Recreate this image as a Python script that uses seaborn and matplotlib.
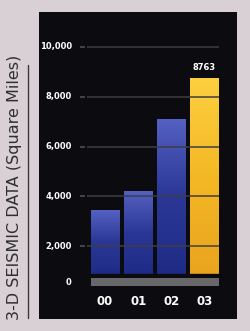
import numpy as np
import pandas as pd
import matplotlib
matplotlib.use("Agg")
import matplotlib.pyplot as plt
import seaborn as sns
from matplotlib.colors import LinearSegmentedColormap

years = ["00", "01", "02", "03"]
values = [3450, 4200, 7100, 8763]
tick_values = [2000, 4000, 6000, 8000, 10000]
tick_labels = ["2,000", "4,000", "6,000", "8,000", "10,000"]
highlight_label = "8763"
ylabel = "3-D SEISMIC DATA (Square Miles)"

sns.set_theme(style="white")
plt.rcParams['font.family'] = ['DejaVu Sans']

BG = "#d8d0d4"
PANEL = "#0c0c10"
fig = plt.figure(figsize=(2.5, 3.31), dpi=100, facecolor=BG)
W, H = 250, 331
ax = fig.add_axes([39 / W, (H - 319) / H, 198 / W, 307 / H])
ax.set_facecolor(PANEL)

df = pd.DataFrame({"year": years, "value": values})
palette = ["#3a46a6", "#3a46a6", "#3a46a6", "#f2b62a"]
sns.barplot(data=df, x="year", y="value", hue="year", palette=palette,
            legend=False, width=0.85, ax=ax, zorder=2, linewidth=0)

ax.set_xlim(-1.99, 3.98)
ax.set_ylim(-920, 11400)

# gradients on bars
blue_cmap = LinearSegmentedColormap.from_list("b", ["#1f2c86", "#2a3796", "#5461c2"])
yel_cmap = LinearSegmentedColormap.from_list("y", ["#e9a41e", "#f4b825", "#fcd040"])
grad = np.linspace(0, 1, 256).reshape(-1, 1)
for i, p in enumerate(ax.patches):
    x0, w = p.get_x(), p.get_width()
    top = p.get_height()
    cmap = yel_cmap if i == 3 else blue_cmap
    im = ax.imshow(grad, cmap=cmap, origin="lower", aspect="auto",
                   extent=[x0, x0 + w, 900, top], zorder=2.5)
    im.set_clip_path(p)

# hide lower parts, grey base strip
ax.axhspan(-1000, 900, color=PANEL, zorder=3)
ax.fill_between([-0.43, 3.43], 400, 720, color="#68686a", zorder=4, linewidth=0)

# gridlines
for v, lab in zip(tick_values, tick_labels):
    ax.hlines(v, -0.54, 3.43, color="#3e3e40", lw=1.1, zorder=3.5)
    ax.hlines(v, -0.76, -0.60, color="#555557", lw=1.1, zorder=3.5)
    ax.text(-0.99, v, lab, ha="right", va="center",
            color="white", fontsize=6, fontweight="bold", zorder=5)
ax.text(-1.1, 560, "0", ha="center", va="center", color="white",
        fontsize=6, fontweight="bold", zorder=5)

for i, y in enumerate(years):
    ax.text(i, -200, y, ha="center", va="center", color="white",
            fontsize=8.5, fontweight="bold", zorder=5)

ax.text(3, values[3] + 220, highlight_label, ha="center", va="bottom",
        color="white", fontsize=6, fontweight="bold", zorder=5)

ax.set_xlabel("")
ax.set_ylabel("")
ax.set_xticks([])
ax.set_yticks([])
for s in ax.spines.values():
    s.set_visible(False)

# rotated label and rule line
fig.text(15 / W, 1 - 187 / H, ylabel, rotation=90, ha="center", va="center",
         color="#2e2e30", fontsize=11.5)
fig.add_artist(plt.Line2D([28 / W, 28 / W], [1 - 65 / H, 1 - 318 / H],
                          color="#3a3a3c", lw=1.0))

fig.savefig("out.png", dpi=100, facecolor=BG)
